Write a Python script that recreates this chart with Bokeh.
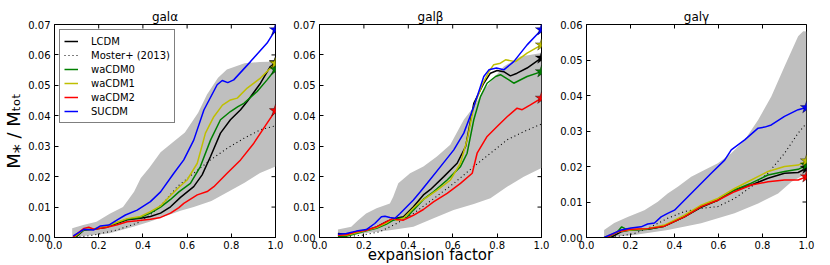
import math
from bokeh.plotting import figure
from bokeh.layouts import row
from bokeh.models import (FixedTicker, PrintfTickFormatter, Legend, LegendItem, Range1d)
from bokeh.embed import file_html
from bokeh.resources import INLINE

# ---------------- data ----------------
titles = ["galα", "galβ", "galγ"]
series_names = ["LCDM", "Moster+ (2013)", "waCDM0", "waCDM1", "waCDM2", "SUCDM"]
y_max = [0.07, 0.07, 0.06]
x_ticks = [0.0, 0.2, 0.4, 0.6, 0.8, 1.0]
y_ticks_07 = [0.0, 0.01, 0.02, 0.03, 0.04, 0.05, 0.06, 0.07]
y_ticks_06 = [0.0, 0.01, 0.02, 0.03, 0.04, 0.05, 0.06]
x_label = "expansion factor"
y_label = "M⁎ / Mₜₒₜ"

# --- gal alpha ---
a_band_up_x = [0.08, 0.13, 0.19, 0.25, 0.31, 0.36, 0.39, 0.43, 0.48, 0.53, 0.59, 0.65, 0.69, 0.74, 0.78, 0.86, 0.93, 1.0]
a_band_up_y = [0.003, 0.0041, 0.0052, 0.0078, 0.0100, 0.0150, 0.0195, 0.0230, 0.0280, 0.0310, 0.0345, 0.0410, 0.0470, 0.0525, 0.0552, 0.0573, 0.0577, 0.0578]
a_band_lo_x = [0.08, 0.13, 0.25, 0.36, 0.43, 0.51, 0.57, 0.63, 0.71, 0.78, 0.86, 0.93, 1.0]
a_band_lo_y = [0.0, 0.0005, 0.0014, 0.0036, 0.0052, 0.0072, 0.0088, 0.0100, 0.0120, 0.0148, 0.0180, 0.0212, 0.0233]

a_lcdm_x = [0.095, 0.133, 0.178, 0.238, 0.284, 0.329, 0.389, 0.434, 0.48, 0.525, 0.57, 0.63, 0.668, 0.706, 0.751, 0.796, 0.842, 0.872, 0.932, 0.977, 1.0]
a_lcdm_y = [0.0, 0.0025, 0.0027, 0.0034, 0.0047, 0.0058, 0.0063, 0.0069, 0.008, 0.0101, 0.0132, 0.0167, 0.0206, 0.0266, 0.0343, 0.0387, 0.042, 0.0447, 0.0507, 0.0562, 0.0575]
a_moster_x = [0.095, 0.178, 0.284, 0.374, 0.434, 0.495, 0.555, 0.63, 0.706, 0.781, 0.857, 0.932, 1.0]
a_moster_y = [0.0, 0.0008, 0.0025, 0.0047, 0.0075, 0.0115, 0.0167, 0.0211, 0.0255, 0.0293, 0.0326, 0.0354, 0.0367]
a_w0_x = [0.09, 0.133, 0.178, 0.238, 0.284, 0.329, 0.389, 0.434, 0.48, 0.525, 0.563, 0.615, 0.66, 0.706, 0.751, 0.796, 0.83, 0.857, 0.917, 0.962, 1.0]
a_w0_y = [0.0, 0.0025, 0.0028, 0.0036, 0.0049, 0.006, 0.0066, 0.008, 0.0100, 0.0125, 0.0150, 0.0178, 0.0233, 0.032, 0.0387, 0.0414, 0.043, 0.0441, 0.048, 0.0518, 0.0553]
a_w1_x = [0.09, 0.133, 0.178, 0.238, 0.284, 0.329, 0.389, 0.434, 0.48, 0.525, 0.563, 0.6, 0.646, 0.683, 0.721, 0.76, 0.796, 0.827, 0.872, 0.932, 1.0]
a_w1_y = [0.0002, 0.0027, 0.0028, 0.0038, 0.005, 0.0062, 0.0069, 0.0085, 0.0104, 0.0138, 0.0165, 0.0189, 0.0244, 0.0343, 0.0397, 0.0435, 0.0452, 0.0458, 0.0491, 0.0524, 0.0573]
a_w2_x = [0.085, 0.133, 0.155, 0.178, 0.238, 0.284, 0.329, 0.374, 0.434, 0.48, 0.525, 0.563, 0.585, 0.646, 0.691, 0.721, 0.781, 0.842, 0.902, 0.962, 1.0]
a_w2_y = [0.0002, 0.003, 0.0034, 0.0027, 0.0034, 0.0042, 0.0052, 0.0055, 0.006, 0.0066, 0.008, 0.0098, 0.0112, 0.014, 0.0151, 0.0167, 0.0211, 0.0255, 0.031, 0.0376, 0.0417]
a_su_x = [0.085, 0.133, 0.178, 0.208, 0.246, 0.284, 0.321, 0.374, 0.434, 0.48, 0.54, 0.585, 0.63, 0.676, 0.736, 0.759, 0.784, 0.811, 0.887, 0.962, 1.0]
a_su_y = [0.0005, 0.0027, 0.0025, 0.0038, 0.0041, 0.0058, 0.0074, 0.009, 0.0118, 0.0150, 0.0211, 0.0255, 0.032, 0.0419, 0.0502, 0.0516, 0.0509, 0.0518, 0.0578, 0.0639, 0.0683]

# --- gal beta ---
b_band_up_x = [0.083, 0.143, 0.174, 0.21, 0.257, 0.317, 0.332, 0.355, 0.408, 0.468, 0.529, 0.589, 0.65, 0.695, 0.74, 0.785, 0.83, 0.905, 1.0]
b_band_up_y = [0.0026, 0.0035, 0.0057, 0.0079, 0.0096, 0.0112, 0.0134, 0.0178, 0.0211, 0.0233, 0.0266, 0.0305, 0.0387, 0.043, 0.0485, 0.0524, 0.0562, 0.0595, 0.0606]
b_band_lo_x = [0.083, 0.196, 0.317, 0.423, 0.514, 0.604, 0.695, 0.77, 0.845, 0.92, 1.0]
b_band_lo_y = [0.0, 0.0013, 0.0024, 0.0035, 0.0063, 0.009, 0.011, 0.0129, 0.0167, 0.02, 0.0228]

b_lcdm_x = [0.083, 0.121, 0.166, 0.211, 0.257, 0.302, 0.325, 0.347, 0.378, 0.423, 0.468, 0.5, 0.56, 0.62, 0.658, 0.695, 0.74, 0.77, 0.8, 0.83, 0.86, 0.89, 0.935, 1.0]
b_lcdm_y = [0.0013, 0.0011, 0.0018, 0.0024, 0.0035, 0.0052, 0.0059, 0.0063, 0.0068, 0.0101, 0.014, 0.0158, 0.02, 0.0244, 0.0299, 0.0441, 0.0507, 0.054, 0.0549, 0.0545, 0.0531, 0.054, 0.0557, 0.059]
b_moster_x = [0.083, 0.196, 0.272, 0.347, 0.423, 0.515, 0.605, 0.695, 0.77, 0.845, 0.92, 1.0]
b_moster_y = [0.0, 0.0008, 0.0019, 0.0046, 0.0079, 0.0128, 0.0178, 0.0233, 0.0277, 0.0321, 0.0348, 0.0373]
b_w0_x = [0.083, 0.121, 0.211, 0.257, 0.302, 0.332, 0.363, 0.393, 0.423, 0.468, 0.515, 0.575, 0.635, 0.665, 0.695, 0.725, 0.755, 0.793, 0.815, 0.853, 0.875, 0.935, 1.0]
b_w0_y = [0.0004, 0.0004, 0.0022, 0.003, 0.0044, 0.0057, 0.0063, 0.0066, 0.009, 0.0125, 0.0151, 0.0189, 0.0233, 0.0277, 0.0387, 0.0463, 0.0507, 0.0529, 0.0535, 0.0518, 0.0507, 0.0529, 0.0545]
b_w1_x = [0.083, 0.121, 0.211, 0.257, 0.302, 0.332, 0.347, 0.378, 0.423, 0.455, 0.53, 0.59, 0.635, 0.665, 0.695, 0.733, 0.763, 0.785, 0.815, 0.838, 0.883, 0.935, 1.0]
b_w1_y = [0.0008, 0.0007, 0.0024, 0.0033, 0.0048, 0.0063, 0.0057, 0.0063, 0.0096, 0.0118, 0.0156, 0.0189, 0.0244, 0.0321, 0.043, 0.0502, 0.0545, 0.0568, 0.0573, 0.0584, 0.0578, 0.0606, 0.0633]
b_w2_x = [0.083, 0.121, 0.166, 0.211, 0.257, 0.302, 0.332, 0.347, 0.378, 0.423, 0.468, 0.515, 0.575, 0.635, 0.688, 0.71, 0.755, 0.8, 0.845, 0.89, 0.913, 0.95, 1.0]
b_w2_y = [0.0007, 0.0009, 0.0019, 0.0024, 0.0035, 0.0052, 0.0063, 0.0059, 0.0057, 0.0073, 0.0092, 0.0118, 0.0145, 0.0178, 0.0211, 0.0277, 0.0332, 0.0365, 0.0397, 0.0425, 0.042, 0.0436, 0.0458]
b_su_x = [0.083, 0.121, 0.166, 0.211, 0.249, 0.279, 0.295, 0.317, 0.34, 0.363, 0.393, 0.423, 0.455, 0.485, 0.545, 0.605, 0.65, 0.695, 0.74, 0.763, 0.797, 0.83, 0.875, 0.935, 1.0]
b_su_y = [0.0011, 0.0013, 0.0021, 0.0026, 0.0046, 0.0068, 0.007, 0.0066, 0.0063, 0.0079, 0.0101, 0.0123, 0.0151, 0.0178, 0.0233, 0.0288, 0.0343, 0.043, 0.0529, 0.0551, 0.0557, 0.0551, 0.0578, 0.0633, 0.0683]

# --- gal gamma ---
c_band_up_x = [0.08, 0.126, 0.187, 0.263, 0.324, 0.369, 0.415, 0.476, 0.536, 0.597, 0.658, 0.719, 0.78, 0.84, 0.9, 0.962, 0.985, 1.0]
c_band_up_y = [0.0021, 0.0041, 0.0058, 0.0077, 0.0101, 0.0124, 0.0143, 0.0171, 0.019, 0.0209, 0.0237, 0.0275, 0.0331, 0.0397, 0.0482, 0.0567, 0.0581, 0.058]
c_band_lo_x = [0.08, 0.217, 0.369, 0.521, 0.673, 0.78, 0.871, 0.932, 1.0]
c_band_lo_y = [0.0, 0.0007, 0.0021, 0.004, 0.0068, 0.0096, 0.0124, 0.0157, 0.018]

c_lcdm_x = [0.111, 0.157, 0.2, 0.278, 0.354, 0.445, 0.521, 0.597, 0.673, 0.749, 0.825, 0.9, 0.962, 1.0]
c_lcdm_y = [0.0, 0.0016, 0.0021, 0.0023, 0.0032, 0.0058, 0.0085, 0.0105, 0.0134, 0.0148, 0.0167, 0.0181, 0.0183, 0.0195]
c_moster_x = [0.111, 0.217, 0.293, 0.369, 0.445, 0.521, 0.597, 0.673, 0.749, 0.825, 0.9, 0.962, 1.0]
c_moster_y = [0.0, 0.0011, 0.003, 0.0054, 0.0073, 0.0082, 0.0087, 0.011, 0.0143, 0.0181, 0.0237, 0.0294, 0.0322]
c_w0_x = [0.096, 0.141, 0.16, 0.175, 0.2, 0.278, 0.354, 0.445, 0.521, 0.597, 0.673, 0.749, 0.825, 0.9, 0.962, 1.0]
c_w0_y = [0.0, 0.0016, 0.003, 0.0025, 0.0021, 0.0023, 0.0032, 0.0058, 0.0087, 0.0105, 0.0134, 0.0153, 0.0176, 0.0186, 0.0192, 0.0204]
c_w1_x = [0.08, 0.141, 0.2, 0.278, 0.354, 0.445, 0.521, 0.597, 0.673, 0.749, 0.825, 0.9, 0.962, 1.0]
c_w1_y = [0.0, 0.0016, 0.0021, 0.0025, 0.0035, 0.0063, 0.0091, 0.011, 0.0138, 0.0162, 0.0186, 0.02, 0.0204, 0.0216]
c_w2_x = [0.096, 0.141, 0.2, 0.278, 0.354, 0.445, 0.521, 0.597, 0.673, 0.749, 0.825, 0.9, 0.962, 1.0]
c_w2_y = [0.0002, 0.0016, 0.0023, 0.0025, 0.0032, 0.0058, 0.0087, 0.0105, 0.0129, 0.0148, 0.0157, 0.0162, 0.0162, 0.0171]
c_su_x = [0.08, 0.119, 0.157, 0.202, 0.248, 0.278, 0.309, 0.339, 0.369, 0.4, 0.445, 0.506, 0.567, 0.628, 0.658, 0.719, 0.78, 0.81, 0.84, 0.9, 0.962, 1.0]
c_su_y = [0.0, 0.0011, 0.0021, 0.0027, 0.003, 0.0038, 0.0041, 0.0058, 0.0068, 0.0077, 0.0105, 0.0143, 0.0181, 0.0218, 0.0247, 0.0275, 0.0308, 0.0311, 0.0317, 0.0341, 0.036, 0.0366]

series_colors = ["#000000", "#000000", "#008000", "#bfbf00", "#ff0000", "#0000ff"]

panels = [
    dict(band=(a_band_up_x, a_band_up_y, a_band_lo_x, a_band_lo_y),
         lines=[(a_lcdm_x, a_lcdm_y), (a_moster_x, a_moster_y), (a_w0_x, a_w0_y),
                (a_w1_x, a_w1_y), (a_w2_x, a_w2_y), (a_su_x, a_su_y)]),
    dict(band=(b_band_up_x, b_band_up_y, b_band_lo_x, b_band_lo_y),
         lines=[(b_lcdm_x, b_lcdm_y), (b_moster_x, b_moster_y), (b_w0_x, b_w0_y),
                (b_w1_x, b_w1_y), (b_w2_x, b_w2_y), (b_su_x, b_su_y)]),
    dict(band=(c_band_up_x, c_band_up_y, c_band_lo_x, c_band_lo_y),
         lines=[(c_lcdm_x, c_lcdm_y), (c_moster_x, c_moster_y), (c_w0_x, c_w0_y),
                (c_w1_x, c_w1_y), (c_w2_x, c_w2_y), (c_su_x, c_su_y)]),
]

FONT = "DejaVu Sans"
borders = [(54, 10, 221), (34, 10, 222), (35, 10, 220)]
figs = []
for i, pan in enumerate(panels):
    bl, br, fw = borders[i]
    ym = y_max[i]
    yt = y_ticks_07 if ym > 0.065 else y_ticks_06
    p = figure(frame_width=fw, frame_height=213, output_backend="svg", toolbar_location=None,
               x_range=Range1d(0, 1), y_range=Range1d(0, ym),
               min_border_left=bl, min_border_right=br, min_border_top=24, min_border_bottom=28,
               title=titles[i])
    p.title.align = "center"
    p.title.text_font = FONT
    p.title.text_font_size = "12px"
    p.title.text_font_style = "normal"
    p.title.text_color = "black"
    p.title.standoff = 2
    p.xgrid.visible = False
    p.ygrid.visible = False
    p.outline_line_color = "black"
    p.outline_line_width = 1
    p.outline_line_alpha = 1
    p.background_fill_color = "white"
    p.border_fill_color = "white"

    # axes
    for ax, ticks, fmt in ((p.xaxis[0], x_ticks, "%.1f"), (p.yaxis[0], yt, "%.2f")):
        ax.ticker = FixedTicker(ticks=ticks)
        ax.formatter = PrintfTickFormatter(format=fmt)
        ax.major_tick_in = 4
        ax.major_tick_out = 0
        ax.minor_tick_line_color = None
        ax.axis_line_color = "black"
        ax.major_label_text_font = FONT
        ax.major_label_text_font_size = "10px"
        ax.major_label_text_color = "black"
        ax.major_tick_line_color = "black"
        ax.axis_label_text_color = "black"
    p.xaxis[0].major_label_standoff = 3
    p.yaxis[0].major_label_standoff = 4
    if i == 0:
        p.yaxis[0].axis_label = y_label
        p.yaxis[0].axis_label_text_font = FONT
        p.yaxis[0].axis_label_text_font_size = "18px"
        p.yaxis[0].axis_label_text_font_style = "normal"
        p.yaxis[0].axis_label_standoff = 1
    if i == 1:
        p.xaxis[0].axis_label = x_label
        p.xaxis[0].axis_label_text_font = FONT
        p.xaxis[0].axis_label_text_font_size = "15px"
        p.xaxis[0].axis_label_text_font_style = "normal"
        p.xaxis[0].axis_label_standoff = -6

    # inward ticks on the right and top edges (dash markers clipped to the frame)
    p.scatter([1.0] * len(yt), yt, marker="dash", size=8, line_color="black", line_width=1)
    p.scatter(x_ticks, [ym] * len(x_ticks), marker="dash", size=8, angle=math.pi / 2,
              line_color="black", line_width=1)

    # band
    ux, uy, lx, ly = pan["band"]
    p.patch(list(ux) + list(lx)[::-1], list(uy) + list(ly)[::-1],
            fill_color="#bfbfbf", line_color=None)

    items = []
    for k, (xs, ys) in enumerate(pan["lines"]):
        if k == 1:
            r = p.line(xs, ys, line_color="black", line_width=1.1, line_dash="1 3")
        else:
            r = p.line(xs, ys, line_color=series_colors[k], line_width=1.5)
        items.append(LegendItem(label=series_names[k], renderers=[r]))
    for k, (xs, ys) in enumerate(pan["lines"]):
        if k == 1:
            continue
        p.scatter([xs[-1]], [ys[-1]], marker="star", size=13,
                  fill_color=series_colors[k], line_color="black", line_alpha=0.6, line_width=0.6)

    if i == 0:
        leg = Legend(items=items, location="top_left", margin=5, padding=4,
                     spacing=0, label_text_font=FONT, label_text_font_size="10px",
                     label_text_color="black",
                     label_height=14, glyph_height=14, glyph_width=14, label_standoff=13,
                     border_line_color="black", border_line_width=1,
                     background_fill_alpha=1, background_fill_color="white")
        p.add_layout(leg)
    figs.append(p)

layout = row(*figs)
open("out.html", "w").write(file_html(layout, INLINE))
